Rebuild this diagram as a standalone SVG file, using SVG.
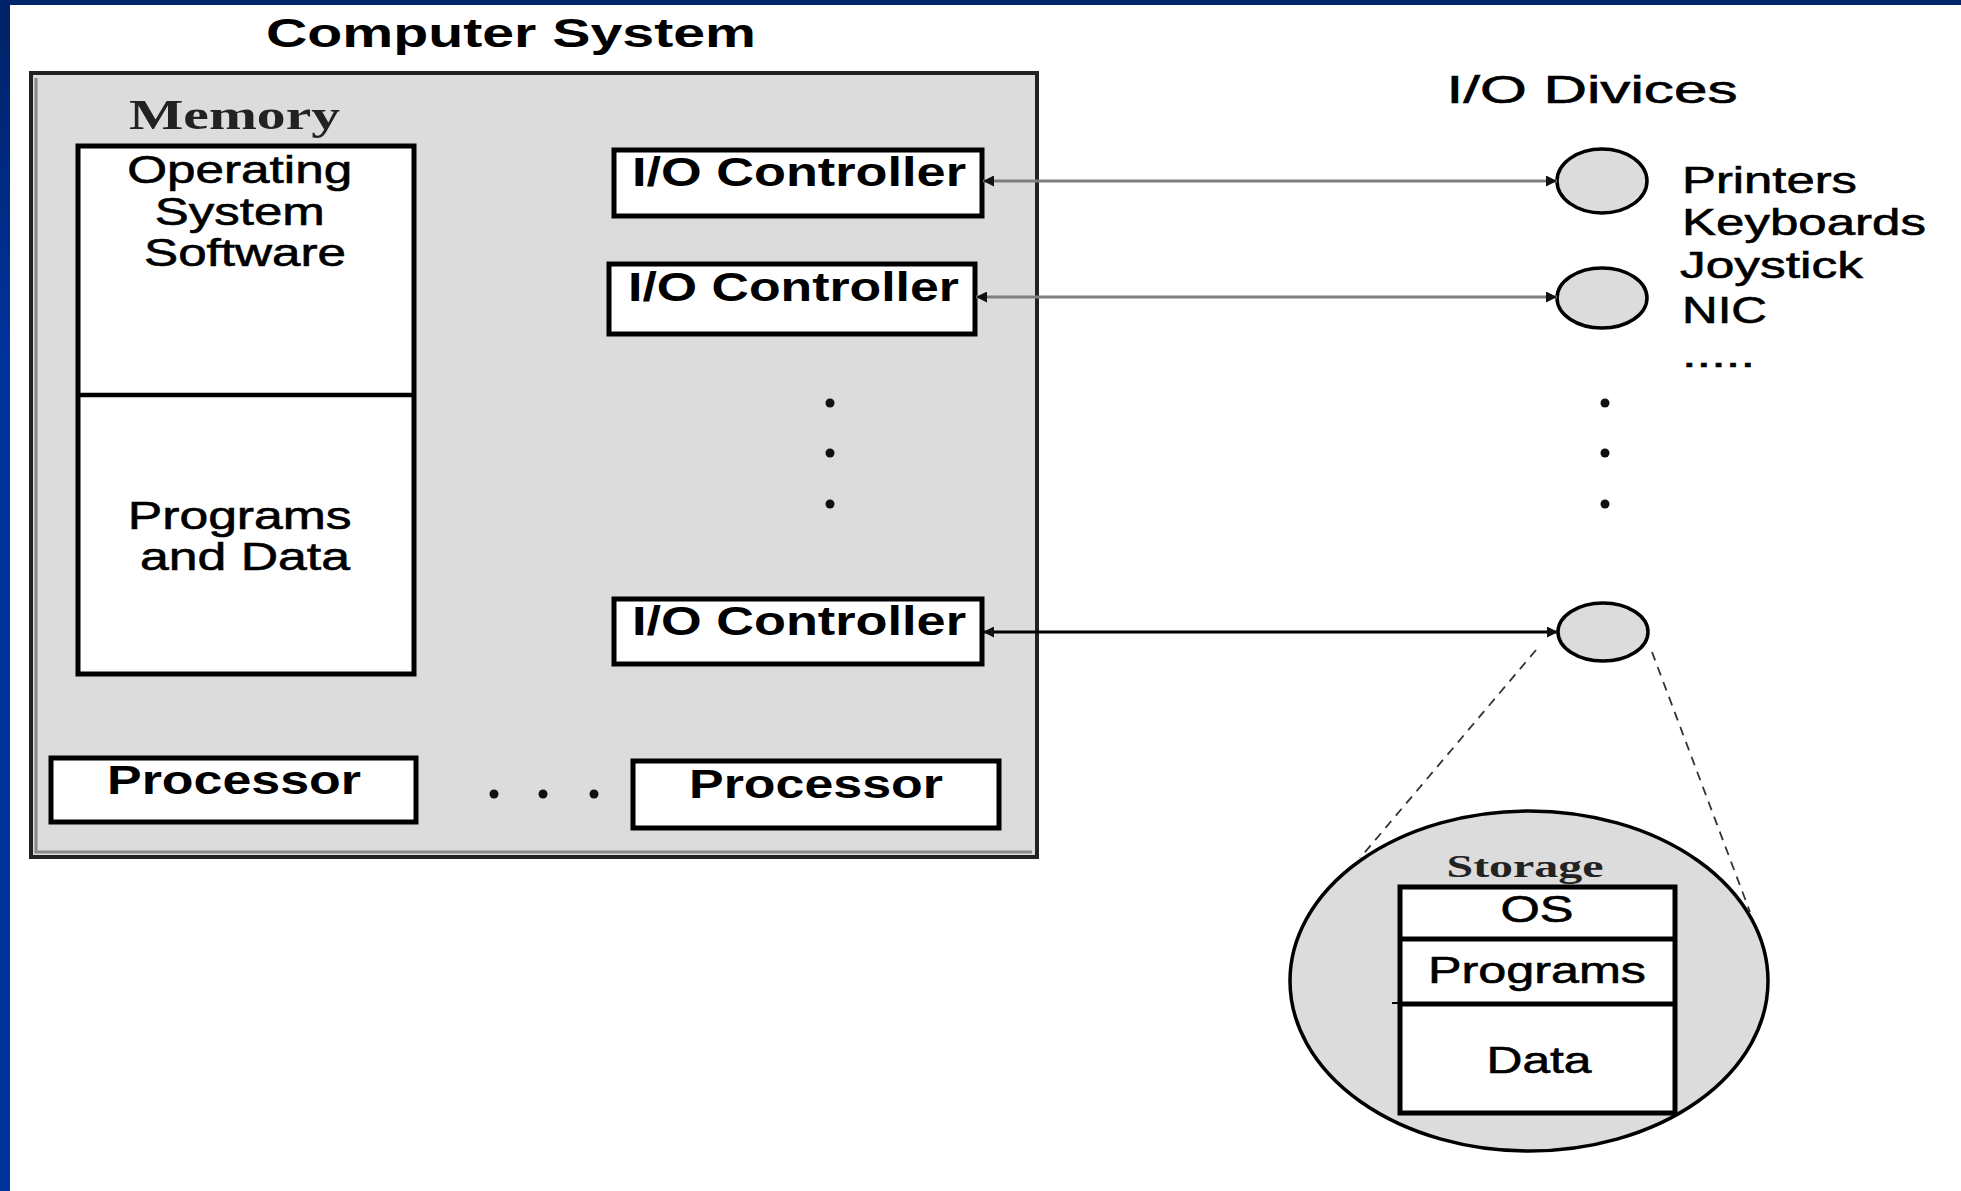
<svg xmlns="http://www.w3.org/2000/svg" width="1961" height="1191" viewBox="0 0 1961 1191">
<defs>
<linearGradient id="bg" x1="0" y1="0" x2="0" y2="1">
<stop offset="0" stop-color="#002266"/>
<stop offset="0.3" stop-color="#00339c"/>
<stop offset="1" stop-color="#00339c"/>
</linearGradient>
<marker id="ah" viewBox="0 0 10 10" refX="10" refY="5" markerWidth="11" markerHeight="11" markerUnits="userSpaceOnUse" orient="auto-start-reverse">
<path d="M0,0 L10,5 L0,10 z" fill="#111"/>
</marker>
<style>
.sans{font-family:"Liberation Sans",Arial,sans-serif;fill:#000}
.r{stroke:#000;stroke-width:0.6}
.b{font-weight:bold}
.serif{font-family:"Liberation Serif","Times New Roman",serif;font-weight:bold;fill:#222}
.box{fill:#fff;stroke:#000;stroke-width:5}
.dev{fill:#dcdcdc;stroke:#000;stroke-width:3.5}
.dot{fill:#111}
.conn{stroke-width:3;fill:none}
.dash{stroke:#333;stroke-width:1.8;stroke-dasharray:9 7;fill:none}
</style>
</defs>
<rect x="0" y="0" width="1961" height="1191" fill="#fff"/>
<rect x="0" y="0" width="1961" height="5" fill="#00256e"/>
<rect x="0" y="0" width="10" height="1191" fill="url(#bg)"/>

<g id="title">
<text class="sans b" x="511" y="47" font-size="40" text-anchor="middle" textLength="490" lengthAdjust="spacingAndGlyphs">Computer System</text>
</g>

<g id="computer-system">
<rect x="31" y="73" width="1006" height="784" fill="#dcdcdc" stroke="#222" stroke-width="4"/>
<path d="M36,78 V852 H1032" fill="none" stroke="#8a8a8a" stroke-width="3"/>
</g>

<g id="memory">
<text class="serif" x="129" y="129" font-size="42" textLength="211" lengthAdjust="spacingAndGlyphs">Memory</text>
<rect class="box" x="78" y="146" width="336" height="528" stroke-width="4.5"/>
<line x1="78" y1="395" x2="414" y2="395" stroke="#000" stroke-width="4.5"/>
<text class="sans r" font-size="38" text-anchor="middle">
<tspan x="245" y="183" textLength="225" lengthAdjust="spacingAndGlyphs">Operating</tspan>
<tspan x="245" y="225" textLength="170" lengthAdjust="spacingAndGlyphs">System</tspan>
<tspan x="245" y="266" textLength="202" lengthAdjust="spacingAndGlyphs">Software</tspan>
</text>
<text class="sans r" font-size="38" text-anchor="middle">
<tspan x="245" y="529" textLength="224" lengthAdjust="spacingAndGlyphs">Programs</tspan>
<tspan x="245" y="570" textLength="210" lengthAdjust="spacingAndGlyphs">and Data</tspan>
</text>
</g>

<g id="io-controller-1">
<rect class="box" x="614" y="150" width="368" height="66"/>
<text class="sans b" x="632" y="186" font-size="40" textLength="334" lengthAdjust="spacingAndGlyphs">I/O Controller</text>
</g>
<g id="io-controller-2">
<rect class="box" x="609" y="264" width="366" height="70"/>
<text class="sans b" x="628" y="301" font-size="40" textLength="331" lengthAdjust="spacingAndGlyphs">I/O Controller</text>
</g>
<g id="io-controller-3">
<rect class="box" x="614" y="599" width="368" height="65"/>
<text class="sans b" x="632" y="635" font-size="40" textLength="334" lengthAdjust="spacingAndGlyphs">I/O Controller</text>
</g>

<g id="controller-ellipsis">
<circle class="dot" cx="830" cy="403" r="4.5"/>
<circle class="dot" cx="830" cy="453" r="4.5"/>
<circle class="dot" cx="830" cy="504" r="4.5"/>
</g>

<g id="processor-1">
<rect class="box" x="51" y="758" width="365" height="64"/>
<text class="sans b" x="234" y="794" font-size="40" text-anchor="middle" textLength="254" lengthAdjust="spacingAndGlyphs">Processor</text>
</g>
<g id="processor-ellipsis">
<circle class="dot" cx="494" cy="794" r="4.5"/>
<circle class="dot" cx="543" cy="794" r="4.5"/>
<circle class="dot" cx="594" cy="794" r="4.5"/>
</g>
<g id="processor-2">
<rect class="box" x="633" y="761" width="366" height="67"/>
<text class="sans b" x="816" y="798" font-size="40" text-anchor="middle" textLength="254" lengthAdjust="spacingAndGlyphs">Processor</text>
</g>

<g id="io-devices-title">
<text class="sans r" x="1592" y="103" font-size="38" stroke-width="1.2" text-anchor="middle" textLength="291" lengthAdjust="spacingAndGlyphs">I/O Divices</text>
</g>

<g id="device-1">
<ellipse class="dev" cx="1602" cy="181" rx="45" ry="32"/>
</g>
<g id="device-2">
<ellipse class="dev" cx="1602" cy="298" rx="45" ry="30"/>
</g>
<g id="device-list">
<text class="sans r" font-size="37">
<tspan x="1682" y="193" textLength="175" lengthAdjust="spacingAndGlyphs">Printers</tspan>
<tspan x="1682" y="235" textLength="244" lengthAdjust="spacingAndGlyphs">Keyboards</tspan>
<tspan x="1680" y="278" textLength="183" lengthAdjust="spacingAndGlyphs">Joystick</tspan>
<tspan x="1682" y="323" textLength="85" lengthAdjust="spacingAndGlyphs">NIC</tspan>
<tspan x="1682" y="367" textLength="73" lengthAdjust="spacingAndGlyphs">.....</tspan>
</text>
</g>
<g id="device-ellipsis">
<circle class="dot" cx="1605" cy="403" r="4.5"/>
<circle class="dot" cx="1605" cy="453" r="4.5"/>
<circle class="dot" cx="1605" cy="504" r="4.5"/>
</g>
<g id="device-3">
<ellipse class="dev" cx="1603" cy="632" rx="45" ry="29"/>
</g>

<g id="storage">
<ellipse class="dev" cx="1529" cy="981" rx="239" ry="170"/>
<text class="serif" x="1525" y="877" font-size="32" text-anchor="middle" textLength="157" lengthAdjust="spacingAndGlyphs">Storage</text>
<rect class="box" x="1400" y="887" width="275" height="226"/>
<line x1="1400" y1="939" x2="1675" y2="939" stroke="#000" stroke-width="5"/>
<line x1="1400" y1="1004" x2="1675" y2="1004" stroke="#000" stroke-width="5"/>
<line x1="1392" y1="1003" x2="1400" y2="1003" stroke="#000" stroke-width="2"/>
<text class="sans r" x="1537" y="922" font-size="36" text-anchor="middle" textLength="73" lengthAdjust="spacingAndGlyphs">OS</text>
<text class="sans r" x="1537" y="983" font-size="36" text-anchor="middle" textLength="218" lengthAdjust="spacingAndGlyphs">Programs</text>
<text class="sans r" x="1539" y="1073" font-size="36" text-anchor="middle" textLength="105" lengthAdjust="spacingAndGlyphs">Data</text>
</g>

<g id="connectors">
<line class="conn" x1="983" y1="181" x2="1557" y2="181" stroke="#7f7f7f" marker-start="url(#ah)" marker-end="url(#ah)"/>
<line class="conn" x1="976" y1="297" x2="1557" y2="297" stroke="#7f7f7f" stroke-width="3.5" marker-start="url(#ah)" marker-end="url(#ah)"/>
<line class="conn" x1="983" y1="632" x2="1558" y2="632" stroke="#000" marker-start="url(#ah)" marker-end="url(#ah)"/>
<line class="dash" x1="1536" y1="650" x2="1360" y2="858"/>
<line class="dash" x1="1652" y1="652" x2="1750" y2="912"/>
</g>
</svg>
